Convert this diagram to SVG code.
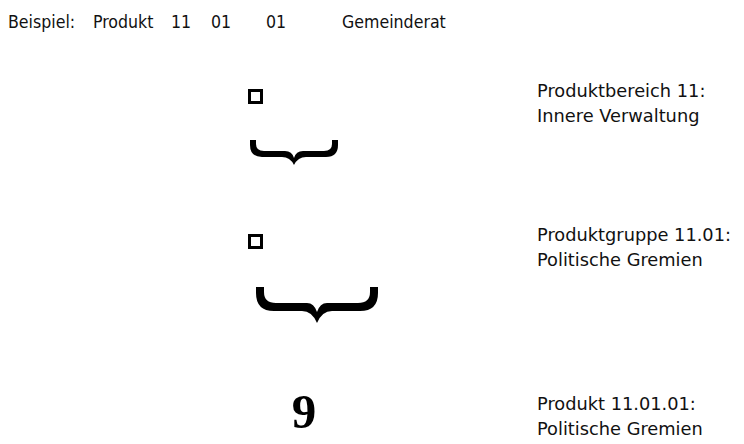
<svg xmlns="http://www.w3.org/2000/svg" width="744" height="444" viewBox="0 0 744 444">
<style>
.top{font-family:"DejaVu Sans","Liberation Sans",sans-serif;font-stretch:condensed;font-size:17.6px;fill:#111}
.lbl{font-family:"DejaVu Sans","Liberation Sans",sans-serif;font-size:17.8px;fill:#111}
.sq{fill:none;stroke:#000;stroke-width:3}
.br{fill:#000;stroke:none}
.nine{font-family:"Liberation Serif","Times New Roman",serif;font-weight:bold;font-size:49px;fill:#000}
</style>
<rect width="744" height="444" fill="#fff"/>
<g id="example">
<text class="top" x="8" y="28">Beispiel:</text>
<text class="top" x="93" y="28">Produkt</text>
<text class="top" x="171" y="28">11</text>
<text class="top" x="211" y="28">01</text>
<text class="top" x="266" y="28">01</text>
<text class="top" x="342" y="28">Gemeinderat</text>
</g>
<g id="produktbereich">
<rect class="sq" x="249.5" y="90.5" width="12" height="12"/>
<path class="br" d="M250,140 L250,145 Q250,157 262,157 L282,157 Q290,157 294,165 Q298,157 306,157 L326,157 Q338,157 338,145 L338,140 L332,140 L332,144 Q332,151 324,151 L303,151 Q296,151 294,158 Q292,151 285,151 L264,151 Q256,151 256,144 L256,140 Z"/>
<text class="lbl" x="537" y="97">Produktbereich 11:</text>
<text class="lbl" x="537" y="122">Innere Verwaltung</text>
</g>
<g id="produktgruppe">
<rect class="sq" x="249.5" y="235.5" width="12" height="12"/>
<path class="br" d="M256,287 L256,293 Q256,311 274,311 L302,311 Q312,311 317,323 Q322,311 332,311 L360,311 Q378,311 378,293 L378,287 L370,287 L370,292 Q370,303 358,303 L327,303 Q320,303 317,312 Q314,303 307,303 L276,303 Q264,303 264,292 L264,287 Z"/>
<text class="lbl" x="537" y="241">Produktgruppe 11.01:</text>
<text class="lbl" x="537" y="266">Politische Gremien</text>
</g>
<g id="produkt">
<text class="nine" x="304" y="428" text-anchor="middle">9</text>
<text class="lbl" x="537" y="410">Produkt 11.01.01:</text>
<text class="lbl" x="537" y="435">Politische Gremien</text>
</g>
</svg>
